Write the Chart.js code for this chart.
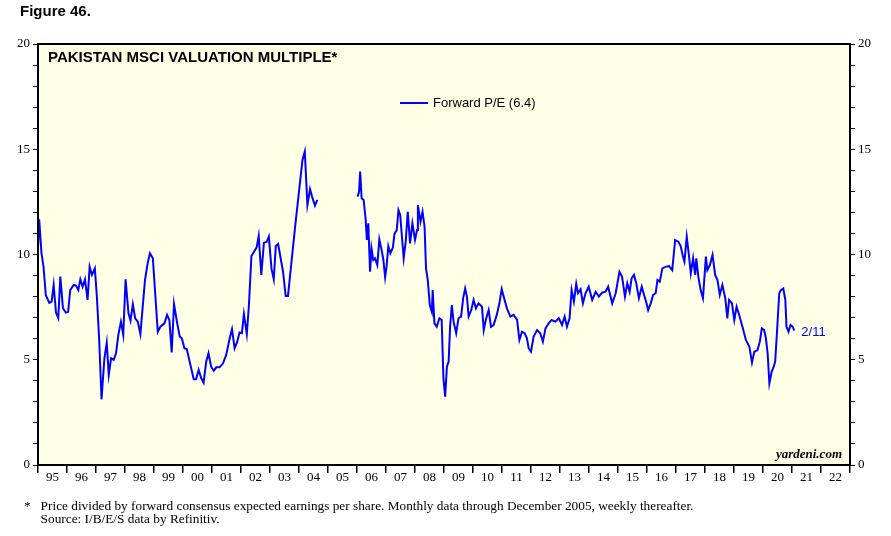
<!DOCTYPE html>
<html>
<head>
<meta charset="utf-8">
<script src="https://cdn.jsdelivr.net/npm/chart.js@4"></script>
<style>
  body { margin: 0; background: #fff; }
  #wrap { position: relative; width: 891px; height: 536px; }
  canvas { position: absolute; left: 0; top: 0; }
  .t { position: absolute; white-space: nowrap; }
  #fig { left: 20px; top: 2px; font: bold 15px "Liberation Sans", Arial, sans-serif; }
  #note { left: 24px; top: 499px; font: 13.3px "Liberation Serif", "Times New Roman", serif; line-height: 13px; }
</style>
</head>
<body>
<div id="wrap">
  <canvas id="c" width="891" height="536"></canvas>
  <div class="t" id="fig">Figure 46.</div>
  <div class="t" id="note">*&nbsp;&nbsp;&nbsp;Price divided by forward consensus expected earnings per share. Monthly data through December 2005, weekly thereafter.<br>&nbsp;&nbsp;&nbsp;&nbsp;&nbsp;Source: I/B/E/S data by Refinitiv.</div>
</div>
<script>
// decimal year, forward P/E
const dates = [
  1995.00, 1995.04, 1995.12, 1995.19, 1995.27, 1995.39, 1995.47, 1995.54, 1995.62, 1995.70, 1995.77, 1995.86, 1995.96,
  1996.04, 1996.11, 1996.23, 1996.31, 1996.39, 1996.46, 1996.54, 1996.62, 1996.71, 1996.78, 1996.86, 1996.96,
  1997.03, 1997.11, 1997.19, 1997.29, 1997.37, 1997.44, 1997.52, 1997.61, 1997.69, 1997.77, 1997.86, 1997.94,
  1998.02, 1998.12, 1998.19, 1998.27, 1998.35, 1998.44, 1998.53, 1998.69, 1998.78, 1998.86, 1998.96,
  1999.13, 1999.22, 1999.36, 1999.45, 1999.53, 1999.61, 1999.69, 1999.80, 1999.89, 1999.96,
  2000.05, 2000.13, 2000.23, 2000.37, 2000.45, 2000.54, 2000.63, 2000.71, 2000.80, 2000.88, 2000.97,
  2001.06, 2001.15, 2001.26, 2001.38, 2001.49, 2001.61, 2001.69, 2001.78, 2001.87, 2001.95,
  2002.03, 2002.10, 2002.20, 2002.27, 2002.36, 2002.45, 2002.54, 2002.61, 2002.70, 2002.79, 2002.89, 2002.96,
  2003.05, 2003.13, 2003.20, 2003.28, 2003.45, 2003.54, 2003.62, 2003.86,
  2004.12, 2004.20, 2004.29, 2004.38, 2004.45, 2004.55, 2004.63,
  2005.30,
  2006.02, 2006.07, 2006.11, 2006.16, 2006.23, 2006.30, 2006.34, 2006.39, 2006.45, 2006.50, 2006.56, 2006.62, 2006.70, 2006.77, 2006.85, 2006.91, 2006.97,
  2007.02, 2007.08, 2007.15, 2007.24, 2007.29, 2007.37, 2007.43, 2007.49, 2007.54, 2007.61, 2007.68, 2007.75, 2007.83, 2007.91,
  2008.00, 2008.07, 2008.10, 2008.19, 2008.26, 2008.33, 2008.38, 2008.44, 2008.51, 2008.58, 2008.61, 2008.67, 2008.75, 2008.84, 2008.92, 2008.98,
  2009.04, 2009.10, 2009.16, 2009.21, 2009.27, 2009.33, 2009.42, 2009.50, 2009.59, 2009.66, 2009.73, 2009.79, 2009.85, 2009.94,
  2010.02, 2010.10, 2010.19, 2010.31, 2010.37, 2010.44, 2010.54, 2010.62, 2010.71, 2010.82, 2010.91, 2010.99,
  2011.09, 2011.17, 2011.29, 2011.40, 2011.52, 2011.60, 2011.69, 2011.78, 2011.86, 2011.92,
  2012.00, 2012.09, 2012.21, 2012.32, 2012.41, 2012.50, 2012.61, 2012.71, 2012.84, 2012.96,
  2013.07, 2013.16, 2013.24, 2013.33, 2013.40, 2013.48, 2013.56, 2013.62, 2013.71, 2013.79, 2013.88, 2013.99,
  2014.11, 2014.23, 2014.34, 2014.45, 2014.57, 2014.66, 2014.80, 2014.92,
  2015.05, 2015.14, 2015.24, 2015.32, 2015.40, 2015.47, 2015.55, 2015.63, 2015.72, 2015.82, 2015.90, 2015.97,
  2016.04, 2016.13, 2016.21, 2016.30, 2016.36, 2016.44, 2016.53, 2016.65, 2016.76, 2016.87, 2016.97,
  2017.08, 2017.16, 2017.24, 2017.29, 2017.37, 2017.45, 2017.51, 2017.59, 2017.66, 2017.70, 2017.77, 2017.85, 2017.93,
  2018.03, 2018.08, 2018.17, 2018.26, 2018.35, 2018.43, 2018.51, 2018.60, 2018.70, 2018.77, 2018.83, 2018.93,
  2019.01, 2019.09, 2019.18, 2019.29, 2019.41, 2019.53, 2019.62, 2019.70, 2019.81, 2019.89, 2019.96,
  2020.04, 2020.10, 2020.16, 2020.22, 2020.30, 2020.37, 2020.42, 2020.48, 2020.56, 2020.62, 2020.70, 2020.77, 2020.81, 2020.88, 2020.95,
  2021.02, 2021.08
];
const forwardPE = [
  10.37, 11.67, 10.07, 9.42, 8.07, 7.70, 7.76, 8.55, 7.24, 6.98, 8.95, 7.45, 7.24,
  7.28, 8.31, 8.55, 8.52, 8.31, 8.82, 8.47, 8.82, 7.84, 9.42, 9.03, 9.34,
  8.00, 5.94, 3.12, 5.07, 5.81, 4.28, 5.07, 4.99, 5.31, 6.18, 6.81, 6.18,
  8.82, 7.21, 6.86, 7.63, 6.97, 6.81, 6.22, 8.79, 9.58, 10.06, 9.82,
  6.33, 6.57, 6.73, 7.13, 6.89, 5.35, 7.65, 6.73, 6.10, 6.02,
  5.54, 5.51, 4.91, 4.07, 4.07, 4.51, 4.12, 3.91, 4.91, 5.31, 4.67,
  4.48, 4.64, 4.64, 4.83, 5.23, 6.02, 6.45, 5.54, 5.86, 6.29,
  6.26, 7.17, 6.22, 7.52, 9.93, 10.13, 10.34, 10.89, 9.03, 10.55, 10.61, 10.85,
  9.34, 8.82, 10.40, 10.50, 9.18, 8.03, 8.03, 11.24,
  14.49, 14.89, 12.35, 13.10, 12.75, 12.32, 12.59,
  null,
  12.75, 12.98, 13.94, 12.67, 12.59, 11.64, 10.69, 11.48, 9.18, 10.29, 9.74, 9.82, 9.50, 10.72, 10.21, 9.74, 8.92,
  9.42, 10.40, 10.06, 10.34, 10.97, 11.16, 12.11, 11.88, 11.01, 9.82, 10.61, 12.03, 10.53, 11.48,
  10.69, 11.16, 12.35, 11.56, 12.03, 11.32, 9.34, 8.79, 7.60, 7.28, 8.31, 6.73, 6.57, 6.97, 6.89, 4.12,
  3.25, 4.67, 4.91, 6.57, 7.60, 6.81, 6.26, 6.97, 7.05, 7.92, 8.39, 8.00, 7.05, 7.36,
  7.84, 7.44, 7.68, 7.52, 6.41, 6.89, 7.36, 6.57, 6.65, 7.13, 7.68, 8.36,
  7.84, 7.44, 7.05, 7.13, 6.89, 5.94, 6.33, 6.26, 6.02, 5.54,
  5.38, 6.10, 6.41, 6.26, 5.86, 6.49, 6.73, 6.89, 6.81, 6.97,
  6.65, 7.05, 6.57, 6.97, 8.31, 7.76, 8.60, 8.16, 8.35, 7.68, 8.16, 8.47,
  7.84, 8.23, 8.00, 8.19, 8.23, 8.47, 7.68, 8.16,
  9.18, 8.95, 8.00, 8.63, 8.23, 8.87, 9.03, 8.63, 7.92, 8.47, 8.08, 7.76,
  7.36, 7.68, 8.08, 8.16, 8.79, 8.71, 9.34, 9.42, 9.45, 9.26, 10.69,
  10.61, 10.40, 9.90, 9.66, 10.85, 9.90, 9.11, 9.82, 9.03, 9.82, 8.95, 8.31, 7.92,
  9.90, 9.26, 9.50, 9.98, 9.03, 8.79, 8.08, 8.55, 7.92, 6.97, 7.84, 7.68,
  6.89, 7.52, 7.13, 6.57, 5.94, 5.62, 4.86, 5.38, 5.46, 5.86, 6.49,
  6.41, 6.02, 5.31, 3.88, 4.43, 4.67, 4.91, 6.26, 8.16, 8.31, 8.39, 7.84, 6.57, 6.33, 6.65,
  6.57, 6.38
];
const yearLabels = ['95','96','97','98','99','00','01','02','03','04','05','06','07','08','09','10','11','12','13','14','15','16','17','18','19','20','21','22'];
const yMajor = [0, 5, 10, 15, 20];

const points = dates.map((d, i) => ({ x: d, y: forwardPE[i] }));
const serif = '"Liberation Serif", "Times New Roman", serif';
const sans = '"Liberation Sans", Arial, sans-serif';

const decor = {
  id: 'decor',
  beforeDraw(chart) {
    const { ctx, chartArea: a } = chart;
    ctx.save();
    ctx.fillStyle = '#FFFFE6';
    ctx.fillRect(a.left, a.top, a.right - a.left, a.bottom - a.top);
    ctx.restore();
  },
  afterDraw(chart) {
    const { ctx, chartArea: a, scales } = chart;
    ctx.save();
    ctx.strokeStyle = '#000';
    ctx.lineWidth = 2;
    ctx.strokeRect(a.left, a.top, a.right - a.left, a.bottom - a.top);
    // year labels centred in each year
    ctx.fillStyle = '#000';
    ctx.font = '13px ' + serif;
    ctx.textAlign = 'center';
    ctx.textBaseline = 'top';
    yearLabels.forEach((lab, i) => {
      ctx.fillText(lab, scales.x.getPixelForValue(1995 + i + 0.5), a.bottom + 6);
    });
    // title, legend, notes
    ctx.textAlign = 'left';
    ctx.textBaseline = 'middle';
    ctx.font = 'bold 15px ' + sans;
    ctx.fillText('PAKISTAN MSCI VALUATION MULTIPLE*', 48, 58);
    ctx.strokeStyle = '#0000FF';
    ctx.beginPath(); ctx.moveTo(400, 103); ctx.lineTo(428, 103); ctx.stroke();
    ctx.font = '13px ' + sans;
    ctx.fillText('Forward P/E (6.4)', 433, 103);
    ctx.fillStyle = '#0000FF';
    const last = points[points.length - 1];
    ctx.fillText('2/11', scales.x.getPixelForValue(last.x) + 7, scales.y.getPixelForValue(last.y) + 2);
    ctx.fillStyle = '#000';
    ctx.textAlign = 'right';
    ctx.font = 'italic bold 13px ' + serif;
    ctx.fillText('yardeni.com', a.right - 8, a.bottom - 10);
    ctx.restore();
  }
};

function yTick(v) { return yMajor.includes(v) ? String(v) : ''; }

new Chart(document.getElementById('c'), {
  type: 'line',
  data: {
    datasets: [{
      data: points,
      borderColor: '#0000FF',
      borderWidth: 2,
      pointRadius: 0,
      tension: 0,
      spanGaps: false
    }]
  },
  options: {
    responsive: false,
    animation: false,
    layout: { padding: { top: 44 } },
    plugins: { legend: { display: false }, tooltip: { enabled: false } },
    scales: {
      x: {
        type: 'linear', min: 1995, max: 2023,
        ticks: { stepSize: 1, callback: () => '', maxRotation: 0, autoSkip: false },
        grid: { drawOnChartArea: false, tickLength: 8, color: '#000', lineWidth: 1.5 },
        border: { display: false },
        afterFit(s) { s.height = 71; }
      },
      y: {
        position: 'left', min: 0, max: 20,
        ticks: { stepSize: 1, callback: yTick, autoSkip: false, color: '#000', font: { family: serif, size: 13 }, padding: 3 },
        grid: { drawOnChartArea: false, tickLength: 5, color: '#000' },
        border: { display: false },
        afterFit(s) { s.width = 38; }
      },
      y2: {
        position: 'right', min: 0, max: 20,
        ticks: { stepSize: 1, callback: yTick, autoSkip: false, color: '#000', font: { family: serif, size: 13 }, padding: 3 },
        grid: { drawOnChartArea: false, tickLength: 5, color: '#000' },
        border: { display: false },
        afterFit(s) { s.width = 41; }
      }
    }
  },
  plugins: [decor]
});
</script>
</body>
</html>
